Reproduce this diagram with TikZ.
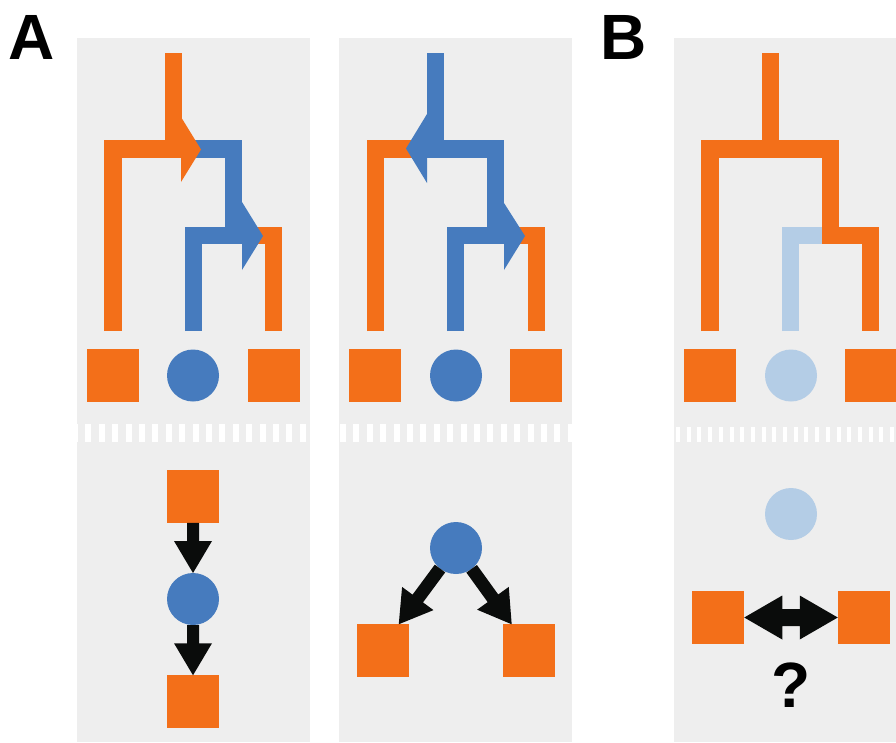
\documentclass[tikz,border=0pt]{standalone}
\usepackage{fontspec}
\setmainfont{Liberation Sans}
\usetikzlibrary{calc}
\definecolor{cOr}{RGB}{243,111,25}
\definecolor{cBl}{RGB}{70,123,190}
\definecolor{cLb}{RGB}{180,205,230}
\definecolor{cBg}{RGB}{238,238,238}
\definecolor{cBk}{RGB}{10,12,11}
% block arrow: #1 start, #2 tip, #3 shaft half width, #4 head half width, #5 head length
\newcommand\blockarrow[5]{%
  \coordinate (baS) at (#1);
  \coordinate (baT) at (#2);
  \coordinate (baH) at ($(baT)!#5!(baS)$);
  \fill[cBk] ($(baS)!#3!90:(baT)$) -- ($(baH)!#3!90:(baT)$) -- ($(baH)!#4!90:(baT)$) -- (baT)
    -- ($(baH)!#4!-90:(baT)$) -- ($(baH)!#3!-90:(baT)$) -- ($(baS)!#3!-90:(baT)$) -- cycle;}
\begin{document}
\begin{tikzpicture}[x=1pt,y=-1pt,
  branch/.style={line width=17.5pt, line join=miter, line cap=butt},
  sq/.style={rectangle, fill=cOr, minimum size=52.5pt, inner sep=0pt, outer sep=0pt},
  circB/.style={circle, fill=cBl, minimum size=52pt, inner sep=0pt, outer sep=0pt},
  circL/.style={circle, fill=cLb, minimum size=52pt, inner sep=0pt, outer sep=0pt},
  lbl/.style={inner sep=0pt, font=\fontsize{64}{64}\selectfont\bfseries}]
\useasboundingbox (0,0) rectangle (896,742);
\fill[white] (0,0) rectangle (896,742);
% panels
\fill[cBg] (77,38) rectangle (310,742);
\fill[cBg] (339,38) rectangle (572,742);
\fill[cBg] (674,38) rectangle (896,742);
% separators
\draw[white, line width=18pt, dash pattern=on 6pt off 7.4pt] (72,433) -- (580,433);
\draw[white, line width=15pt, dash pattern=on 4pt off 6.7pt] (676,434.5) -- (896,434.5);
% labels
\node[lbl, anchor=base] (labA) at (31.5,59) {A};
\node[lbl, anchor=base] (labB) at (624,59) {B};
% ---- tree 1
\draw[branch, cOr] (273.5,331) -- (273.5,235.5) -- (250,235.5);
\draw[branch, cBl] (190,149) -- (233.5,149) -- (233.5,235.5);
\draw[branch, cBl] (193.5,331) -- (193.5,235.5) -- (245,235.5);
\draw[branch, cOr] (173.5,53) -- (173.5,149);
\draw[branch, cOr] (113,331) -- (113,149) -- (185,149);
\fill[cOr] (181,117) -- (201,149.5) -- (181,182) -- cycle;
\fill[cBl] (242,202) -- (263,236) -- (242,270) -- cycle;
% ---- tree 2
\draw[branch, cOr] (536.5,331) -- (536.5,235.5) -- (512,235.5);
\draw[branch, cOr] (375.5,331) -- (375.5,149) -- (415,149);
\draw[branch, cBl] (435.5,53) -- (435.5,149);
\draw[branch, cBl] (420,149) -- (495.5,149) -- (495.5,235.5);
\draw[branch, cBl] (455.5,331) -- (455.5,235.5) -- (507,235.5);
\fill[cBl] (427,114) -- (406,148.5) -- (427,183) -- cycle;
\fill[cBl] (504,203) -- (525,236) -- (504,270) -- cycle;
% ---- tree 3
\draw[branch, cLb] (790.5,331) -- (790.5,235.5) -- (825,235.5);
\draw[branch, cOr] (770.5,53) -- (770.5,149);
\draw[branch, cOr] (710,331) -- (710,149) -- (830.5,149) -- (830.5,235.5) -- (870.5,235.5) -- (870.5,331);
% leaves
\node[sq] (p1l) at (113,375.5) {};
\node[circB] (p1m) at (193,375.5) {};
\node[sq] (p1r) at (274,375.5) {};
\node[sq] (p2l) at (375,375.5) {};
\node[circB] (p2m) at (456,375.5) {};
\node[sq] (p2r) at (536,375.5) {};
\node[sq] (p3l) at (710,375.5) {};
\node[circL] (p3m) at (791,375.5) {};
\node[sq] (p3r) at (871,375.5) {};
% ---- lower panel 1
\node[sq] (a1) at (193,496.5) {};
\node[circB] (c1) at (193,599) {};
\node[sq] (a2) at (193,701.5) {};
\blockarrow{a1.south}{c1.north}{6pt}{19pt}{32pt}
\blockarrow{c1.south}{a2.north}{6pt}{19pt}{32pt}
% ---- lower panel 2
\node[circB] (c2) at (456,548) {};
\node[sq] (l2) at (383,650.5) {};
\node[sq] (r2) at (529,650.5) {};
\coordinate (tL) at ($(l2.north west)!0.8!(l2.north east)$);
\coordinate (tR) at ($(r2.north west)!0.17!(r2.north east)$);
\blockarrow{c2.232.8}{tL}{6.5pt}{19.5pt}{32pt}
\blockarrow{c2.307.2}{tR}{6.5pt}{19.5pt}{32pt}
% ---- lower panel 3
\node[circL] (c3) at (791,514) {};
\node[sq] (l3) at (718,617.5) {};
\node[sq] (r3) at (864,617.5) {};
\coordinate (dL) at (l3.east);
\coordinate (dR) at (r3.west);
\coordinate (hL) at ($(dL)!38pt!(dR)$);
\coordinate (hR) at ($(dR)!38pt!(dL)$);
\fill[cBk] (dL) -- ($(hL)!22pt!90:(dR)$) -- ($(hL)!8.5pt!90:(dR)$) -- ($(hR)!8.5pt!-90:(dL)$)
  -- ($(hR)!22pt!-90:(dL)$) -- (dR) -- ($(hR)!22pt!90:(dL)$) -- ($(hR)!8.5pt!90:(dL)$)
  -- ($(hL)!8.5pt!-90:(dR)$) -- ($(hL)!22pt!-90:(dR)$) -- cycle;
\node[lbl, anchor=base] (qm) at (791,707) {?};
\end{tikzpicture}
\end{document}
